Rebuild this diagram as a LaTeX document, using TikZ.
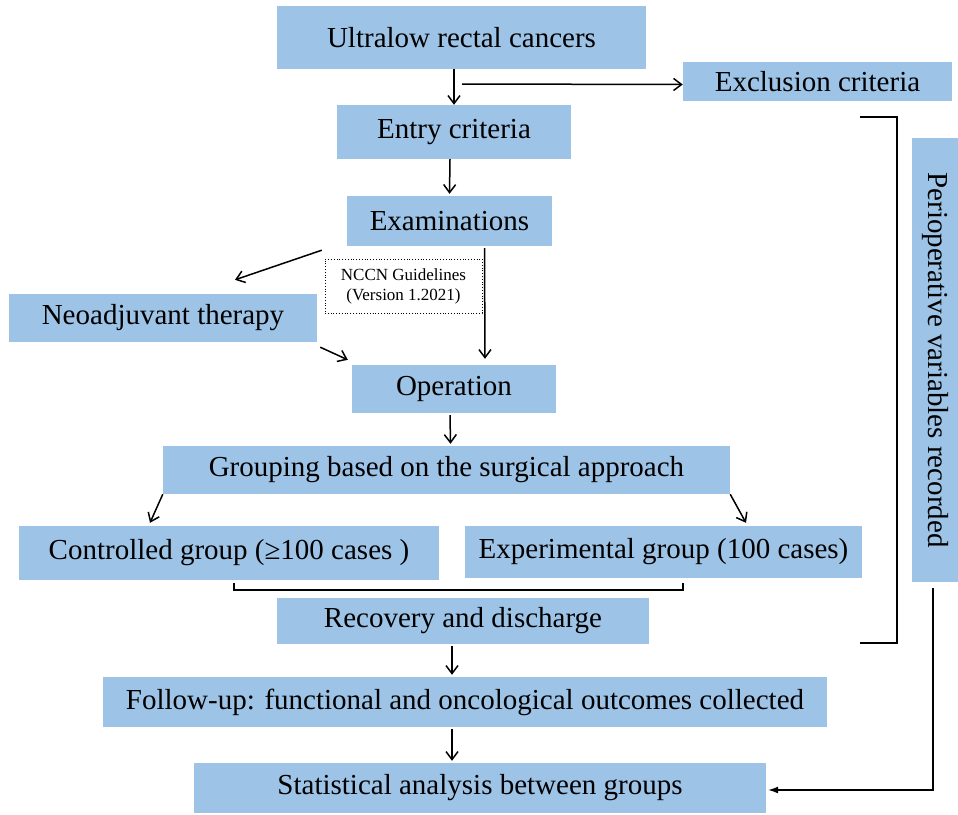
\documentclass[tikz,border=0pt]{standalone}
\usepackage{fontspec}
\setmainfont{Liberation Serif}
\usetikzlibrary{positioning, arrows, arrows.meta}
\definecolor{boxblue}{RGB}{157,195,230}

\begin{document}
\begin{tikzpicture}[x=1pt, y=-1pt,
		stage/.style={fill=boxblue, inner sep=0pt, font=\fontsize{29}{34}\selectfont},
		flow/.style={-{Straight Barb[length=8pt, width=12pt]}, line width=1.5pt},
		brace/.style={line width=1.5pt}]
			\useasboundingbox (0,0) rectangle (958,814);
			% boxes of the flow
			\node[stage, minimum width=369, minimum height=63] (ultra) at (461.5,37.5) {Ultralow rectal cancers};
			\node[stage, minimum width=269, minimum height=39] (excl) at (817.5,81.5) {Exclusion criteria};
			\node[stage, minimum width=234, minimum height=54] (entry) at (454,132) {Entry criteria};
			\node[stage, minimum width=205, minimum height=50] (exam) at (449.5,221) {Examinations};
			\node[draw, dotted, line width=0.8pt, inner sep=0pt, minimum width=157, minimum height=54, align=center,
				font=\fontsize{17}{20}\selectfont] (nccn) at (403.5,286) {NCCN Guidelines\\(Version 1.2021)};
			\node[stage, minimum width=308, minimum height=48] (neo) at (163,318) {Neoadjuvant therapy};
			\node[stage, minimum width=204, minimum height=48] (oper) at (454,389) {Operation};
			\node[stage, minimum width=567, minimum height=48] (group) at (446.5,470) {Grouping based on the surgical approach};
			\node[stage, minimum width=420, minimum height=54] (ctrl) at (229,553) {Controlled group (≥100 cases )};
			\node[stage, minimum width=397, minimum height=52] (exper) at (663.5,552) {Experimental group (100 cases)};
			\node[stage, minimum width=372, minimum height=46] (recov) at (463,621) {Recovery and discharge};
			\node[stage, minimum width=724, minimum height=50] (follow) at (465,702) {Follow-up: functional and oncological outcomes collected};
			\node[stage, minimum width=572, minimum height=50] (stat) at (480,788) {Statistical analysis between groups};
			\node[stage, rotate=-90, minimum width=444, minimum height=46] (peri) at (935,360) {Perioperative variables recorded};
			\coordinate (split) at (462,84);
			% arrows
			\draw[flow] (ultra.south -| entry.north) -- (entry.north);
			\draw[flow] (split) -- ([yshift=-3]excl.west);
			\draw[flow] ([xshift=-4]entry.south) -- ([yshift=2]exam.north);
			\draw[flow] ([xshift=-25,yshift=-4]exam.south west) -- ([xshift=72,yshift=14]neo.north);
			\draw[flow] ([xshift=35,yshift=-2]exam.south) -- ([xshift=31,yshift=6]oper.north);
			\draw[flow] ([xshift=3,yshift=-5]neo.south east) -- ([xshift=-4,yshift=5]oper.north west);
			\draw[flow] ([xshift=-4,yshift=-2]oper.south) -- ([xshift=4,yshift=2]group.north);
			\draw[flow] (group.south west) -- ([xshift=-79,yshift=3]ctrl.north);
			\draw[flow] (group.south east) -- ([xshift=82.5,yshift=3]exper.north);
			\draw[flow] ([xshift=-11,yshift=-2]recov.south) -- ([xshift=-13,yshift=2]follow.north);
			\draw[flow] ([xshift=-13,yshift=-2]follow.south) -- ([xshift=-28,yshift=2]stat.north);
			\draw[-{Latex[length=10pt, width=7pt]}, line width=1.3pt] ([xshift=-2,yshift=-6]peri.east) |- ([xshift=2,yshift=-2]stat.east);
			% brackets
			\draw[brace] ([xshift=5,yshift=-3]ctrl.south) -- ++(0,7) -| ([xshift=19.5,yshift=-5]exper.south);
			\draw[brace] (860,117) -| (897,643) -- (860,643);
		\end{tikzpicture}
\end{document}
